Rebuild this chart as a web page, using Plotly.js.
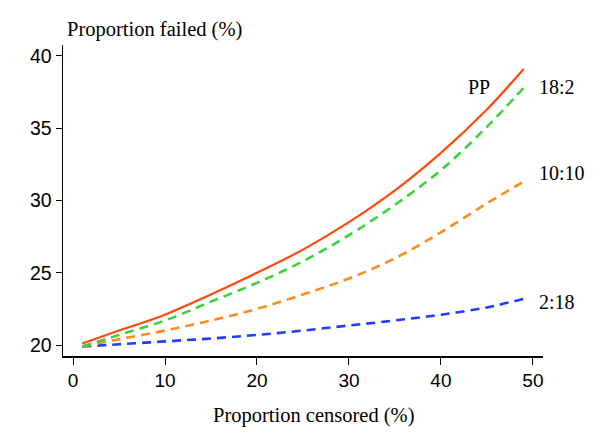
<!DOCTYPE html>
<html>
<head>
<meta charset="utf-8">
<script src="https://cdn.plot.ly/plotly-3.0.1.min.js"></script>
<style>html,body{margin:0;padding:0;background:#fff;}#chart{width:600px;height:440px;}</style>
</head>
<body>
<div id="chart"></div>
<script>
// Proportion censored (%)
var censored = [1, 5, 10, 15, 20, 25, 30, 35, 40, 45, 49];
// Proportion failed (%) per scenario
var failedPP   = [20.1, 21.0, 22.1, 23.5, 25.0, 26.6, 28.5, 30.7, 33.3, 36.3, 39.1];
var failed18_2 = [19.9, 20.7, 21.7, 23.0, 24.3, 25.8, 27.6, 29.7, 32.1, 35.1, 37.8];
var failed10_10= [19.9, 20.4, 21.0, 21.7, 22.5, 23.5, 24.6, 26.0, 27.8, 29.8, 31.3];
var failed2_18 = [19.9, 20.05, 20.25, 20.45, 20.7, 21.0, 21.35, 21.7, 22.1, 22.6, 23.2];
var seriesNames = ["PP", "18:2", "10:10", "2:18"];
var labelY = [37.86, 37.86, 31.93, 22.97];
var xTicks = [0, 10, 20, 30, 40, 50];
var yTicks = [20, 25, 30, 35, 40];

var dashPat = "9px,6px";
var traces = [
  {x: censored, y: failed2_18, mode: "lines", line: {color: "#1f3dff", width: 2.6, dash: dashPat, shape: "spline"}, name: seriesNames[3]},
  {x: censored, y: failed10_10, mode: "lines", line: {color: "#ff8c1a", width: 2.6, dash: dashPat, shape: "spline"}, name: seriesNames[2]},
  {x: censored, y: failed18_2, mode: "lines", line: {color: "#3cd23c", width: 2.6, dash: dashPat, shape: "spline"}, name: seriesNames[1]},
  {x: censored, y: failedPP, mode: "lines", line: {color: "#ff4a0f", width: 2.2, shape: "spline"}, name: seriesNames[0]}
];

var serif = "Liberation Serif, Times New Roman, serif";
var sans = "Liberation Sans, Arial, sans-serif";

var layout = {
  width: 600, height: 440,
  margin: {l: 63, r: 57, t: 45, b: 84},
  paper_bgcolor: "#fff", plot_bgcolor: "#fff",
  showlegend: false,
  xaxis: {
    range: [-1.09, 51.1], tickvals: xTicks, ticktext: xTicks.map(String),
    showgrid: false, zeroline: false, showline: true, linecolor: "#000", linewidth: 1.5,
    ticks: "outside", ticklen: 7, tickwidth: 1, tickcolor: "#000",
    tickfont: {family: sans, size: 19, color: "#000"}
  },
  yaxis: {
    range: [19.24, 40.76], tickvals: yTicks, ticktext: yTicks.map(String),
    showgrid: false, zeroline: false, showline: true, linecolor: "#000", linewidth: 1.5,
    ticks: "outside", ticklen: 6, tickwidth: 1, tickcolor: "#000",
    tickfont: {family: sans, size: 19.5, color: "#000"}
  },
  annotations: [
    {xref: "paper", yref: "paper", x: 0.004, y: 1.051, xanchor: "left", yanchor: "middle", showarrow: false,
     text: "Proportion failed (%)", font: {family: serif, size: 20.5, color: "#000"}},
    {xref: "paper", yref: "paper", x: 0.523, y: -0.19, xanchor: "center", yanchor: "middle", showarrow: false,
     text: "Proportion censored (%)", font: {family: serif, size: 20.5, color: "#000"}},
    {xref: "x", yref: "y", x: 44.1, y: labelY[0], xanchor: "center", yanchor: "middle", showarrow: false,
     text: seriesNames[0], font: {family: serif, size: 20, color: "#000"}},
    {xref: "paper", yref: "y", x: 0.9875, y: labelY[1], xanchor: "left", yanchor: "middle", showarrow: false,
     text: seriesNames[1], font: {family: serif, size: 20, color: "#000"}},
    {xref: "paper", yref: "y", x: 0.9875, y: labelY[2], xanchor: "left", yanchor: "middle", showarrow: false,
     text: seriesNames[2], font: {family: serif, size: 20, color: "#000"}},
    {xref: "paper", yref: "y", x: 0.9875, y: labelY[3], xanchor: "left", yanchor: "middle", showarrow: false,
     text: seriesNames[3], font: {family: serif, size: 20, color: "#000"}}
  ]
};

Plotly.newPlot("chart", traces, layout, {displayModeBar: false, staticPlot: true});
</script>
</body>
</html>
